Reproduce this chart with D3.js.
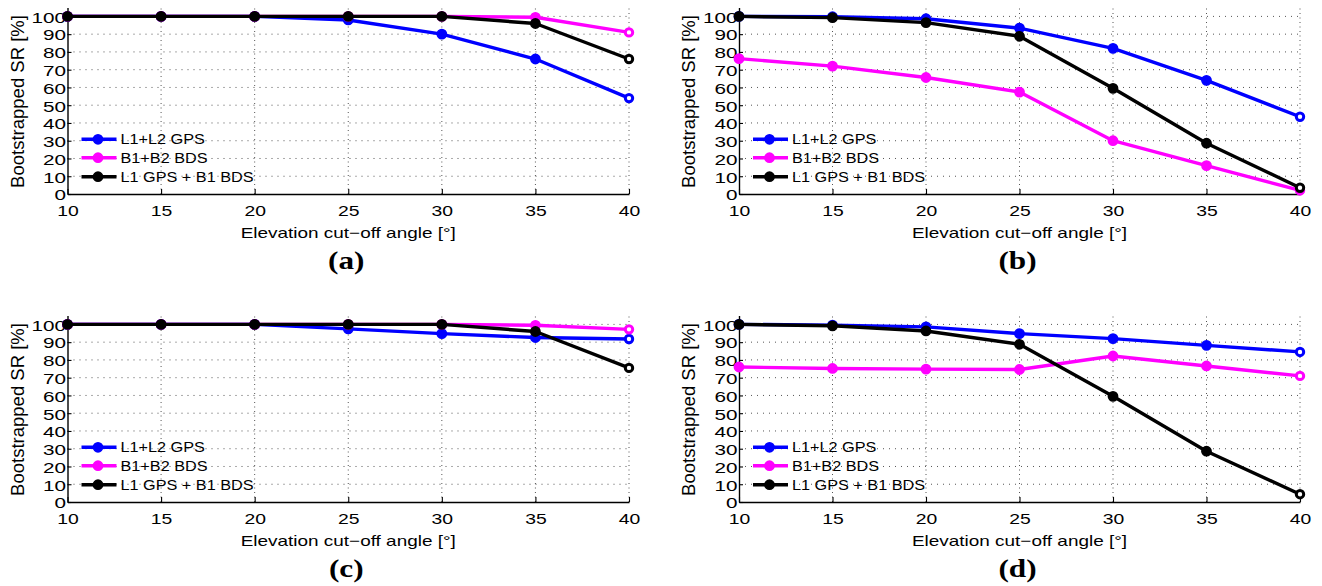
<!DOCTYPE html>
<html>
<head>
<meta charset="utf-8">
<script src="https://cdn.jsdelivr.net/npm/d3@7"></script>
<style>
  html, body { margin: 0; padding: 0; background: #fff; }
  svg { display: block; }
</style>
</head>
<body>
<svg id="fig" width="1322" height="586"></svg>
<script>
// Elevation cut-off angles (degrees) shared by all four panels
const angles = [10, 15, 20, 25, 30, 35, 40];
const xTicks = [10, 15, 20, 25, 30, 35, 40];
const yTicks = [0, 10, 20, 30, 40, 50, 60, 70, 80, 90, 100];

const seriesNames = ["L1+L2 GPS", "B1+B2 BDS", "L1 GPS + B1 BDS"];
const seriesColors = ["#0000ff", "#ff00ff", "#000000"];
const panelLabels = ["(a)", "(b)", "(c)", "(d)"];

// Bootstrapped success rate [%] per panel and combination
const aGps  = [100, 100, 100, 98, 90, 76, 54];
const aBds  = [100, 100, 100, 100, 100, 99.5, 91];
const aComb = [100, 100, 100, 100, 100, 96, 76];

const bGps  = [100, 99.8, 98.7, 93.4, 82, 64, 43.5];
const bBds  = [76.2, 72, 65.6, 57.4, 30, 16, 2];
const bComb = [100, 99.3, 96.5, 88.8, 59.5, 28.6, 3.5];

const cGps  = [100, 100, 100, 97.5, 94.8, 92.6, 91.8];
const cBds  = [100, 100, 100, 100, 100, 99.5, 97.2];
const cComb = [100, 100, 100, 100, 100, 96, 75.5];

const dGps  = [100, 99.6, 98.6, 94.8, 92, 88.2, 84.5];
const dBds  = [76, 75.2, 74.8, 74.6, 82.2, 76.6, 71];
const dComb = [100, 99.2, 96.3, 88.8, 59.5, 28.6, 4.4];

const panelSeries = [
  [aGps, aBds, aComb],
  [bGps, bBds, bComb],
  [cGps, cBds, cComb],
  [dGps, dBds, dComb]
];

// Panel placement on the page
const frames = [
  { left: 67.5, right: 629,  bottom: 194 },
  { left: 739,  right: 1300, bottom: 194 },
  { left: 67.5, right: 629,  bottom: 502 },
  { left: 739,  right: 1300, bottom: 502 }
];
const pxPerUnit = 1.776;
const yMax = 105;

const SANS = "'Liberation Sans', Arial, Helvetica, sans-serif";
const SERIF = "'Liberation Serif', 'Times New Roman', serif";

const svg = d3.select("#fig");

// Text with independent horizontal/vertical scaling around its anchor
function label(g, x, y, str, o) {
  return g.append("text")
    .attr("transform", `translate(${x},${y}) scale(${o.sx || 1},${o.sy || 1})`)
    .attr("text-anchor", o.anchor || "middle")
    .attr("font-family", o.family || SANS)
    .attr("font-size", o.size)
    .attr("font-weight", o.weight || "normal")
    .attr("fill", "#000")
    .text(str);
}

frames.forEach((f, pi) => {
  const g = svg.append("g");
  const x = d3.scaleLinear().domain([10, 40]).range([f.left, f.right]);
  const y = d3.scaleLinear().domain([0, yMax]).range([f.bottom, f.bottom - yMax * pxPerUnit]);
  const top = y(yMax);

  // dotted grid
  g.append("g").selectAll("line.vg").data(xTicks.slice(1)).join("line")
    .attr("x1", d => x(d)).attr("x2", d => x(d))
    .attr("y1", f.bottom).attr("y2", top)
    .attr("stroke", "#555").attr("stroke-width", 1)
    .attr("stroke-dasharray", "1,3.5");
  g.append("g").selectAll("line.hg").data(yTicks.slice(1)).join("line")
    .attr("x1", f.left).attr("x2", f.right)
    .attr("y1", d => y(d)).attr("y2", d => y(d))
    .attr("stroke", "#555").attr("stroke-width", 1)
    .attr("stroke-dasharray", "1,5");

  // axes with inward ticks
  const xAxis = g.append("g").attr("transform", `translate(0,${f.bottom})`)
    .call(d3.axisBottom(x).tickValues(xTicks).tickSize(-5).tickSizeOuter(0));
  const yAxis = g.append("g").attr("transform", `translate(${f.left},0)`)
    .call(d3.axisLeft(y).tickValues(yTicks).tickSize(-4).tickSizeOuter(0));
  [xAxis, yAxis].forEach(ax => {
    ax.attr("font-family", null).attr("font-size", null);
    ax.select(".domain").attr("stroke", "#000").attr("stroke-width", 1.4);
    ax.selectAll(".tick line").attr("stroke", "#000").attr("stroke-width", 1.1);
  });
  xAxis.selectAll(".tick text")
    .attr("y", null).attr("dy", null)
    .attr("transform", "translate(0,21.7) scale(1.29,1)")
    .attr("font-family", SANS).attr("font-size", 15).attr("fill", "#000");
  yAxis.selectAll(".tick text")
    .attr("x", null).attr("dy", null)
    .attr("text-anchor", "end")
    .attr("transform", "translate(-1.5,5.8) scale(1.38,1)")
    .attr("font-family", SANS).attr("font-size", 15).attr("fill", "#000");

  // axis titles
  label(g, (f.left + f.right) / 2, f.bottom + 43.7, "Elevation cut\u2212off angle [\u00b0]", { size: 14.8, sx: 1.28 });
  g.append("text")
    .attr("transform", `translate(${f.left - 44},${f.bottom - 92.5}) rotate(-90)`)
    .attr("text-anchor", "middle")
    .attr("font-family", SANS).attr("font-size", 18.5).attr("fill", "#000")
    .text("Bootstrapped SR [%]");

  // panel caption
  label(g, (f.left + f.right) / 2 - 2, f.bottom + 75, panelLabels[pi], { size: 25, sx: 1.25, sy: 1, family: SERIF, weight: "bold" });

  // data series
  const line = d3.line().x((d, i) => x(angles[i])).y(d => y(d));
  panelSeries[pi].forEach((vals, si) => {
    const col = seriesColors[si];
    g.append("path").datum(vals)
      .attr("d", line).attr("fill", "none")
      .attr("stroke", col).attr("stroke-width", 3.4)
      .attr("stroke-linejoin", "round");
    g.append("g").selectAll("circle").data(vals).join("circle")
      .attr("cx", (d, i) => x(angles[i])).attr("cy", d => y(d))
      .attr("r", (d, i) => i === vals.length - 1 ? 3.7 : 4.6)
      .attr("fill", (d, i) => i === vals.length - 1 ? "#fff" : col)
      .attr("stroke", col)
      .attr("stroke-width", (d, i) => i === vals.length - 1 ? 3 : 1.6);
  });

  // legend
  const rows = [-54.7, -36.3, -17.3];
  seriesNames.forEach((name, si) => {
    const ry = f.bottom + rows[si];
    const col = seriesColors[si];
    g.append("line")
      .attr("x1", f.left + 14).attr("x2", f.left + 49)
      .attr("y1", ry).attr("y2", ry)
      .attr("stroke", col).attr("stroke-width", 3.4);
    g.append("circle")
      .attr("cx", f.left + 30.5).attr("cy", ry).attr("r", 4.6)
      .attr("fill", col).attr("stroke", col).attr("stroke-width", 1.6);
    label(g, f.left + 53, ry + 5, name, { size: 14, sx: 1.16, anchor: "start" });
  });
});
</script>
</body>
</html>
